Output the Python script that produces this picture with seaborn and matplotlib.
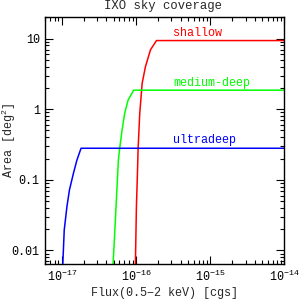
import numpy as np
import pandas as pd
import matplotlib
matplotlib.use("Agg")
import matplotlib.pyplot as plt
import seaborn as sns
from matplotlib.ticker import FixedLocator, LogLocator, NullFormatter

# ---- data ----
ultradeep_flux = [1.03e-17, 1.08e-17, 1.175e-17, 1.27e-17, 1.44e-17, 1.60e-17, 1.82e-17, 1e-14]
ultradeep_area = [0.006, 0.0195, 0.042, 0.072, 0.125, 0.19, 0.28, 0.28]

medium_flux = [4.90e-17, 5.12e-17, 5.45e-17, 5.80e-17, 6.04e-17, 6.51e-17, 7.06e-17, 7.85e-17, 9.33e-17, 1e-14]
medium_area = [0.006, 0.0141, 0.0519, 0.191, 0.28, 0.509, 0.877, 1.35, 1.86, 1.86]

shallow_flux = [9.82e-17, 1.015e-16, 1.048e-16, 1.07e-16, 1.126e-16, 1.213e-16, 1.344e-16, 1.57e-16, 1.89e-16, 1e-14]
shallow_area = [0.006, 0.0417, 0.124, 0.28, 0.88, 2.33, 4.01, 6.92, 9.37, 9.37]

series_names = ["shallow", "medium-deep", "ultradeep"]
series_colors = ["#ff0000", "#00ff00", "#0000ff"]
label_y = [11.8, 2.33, 0.367]
label_x = 3.2e-16

xticks = [1e-17, 1e-16, 1e-15, 1e-14]
xticklabels = [r"$10^{-17}$", r"$10^{-16}$", r"$10^{-15}$", r"$10^{-14}$"]
yticks = [0.01, 0.1, 1, 10]
yticklabels = ["0.01", "0.1", "1", "10"]

sns.set_style("ticks")
plt.rcParams["font.family"] = ["Liberation Mono", "DejaVu Sans"]
plt.rcParams["mathtext.default"] = "regular"
plt.rcParams["mathtext.fontset"] = "custom"
plt.rcParams["mathtext.rm"] = "Liberation Mono"

fig = plt.figure(figsize=(3.0, 3.01), dpi=100)
ax = fig.add_axes([45.3 / 300, 1 - 263.7 / 301, (284.3 - 45.3) / 300, (263.7 - 17.3) / 301])

frames = []
for name, fx, ar in [("ultradeep", ultradeep_flux, ultradeep_area),
                     ("medium-deep", medium_flux, medium_area),
                     ("shallow", shallow_flux, shallow_area)]:
    frames.append(pd.DataFrame({"flux": fx, "area": ar, "survey": name}))
df = pd.concat(frames, ignore_index=True)

sns.lineplot(data=df, x="flux", y="area", hue="survey", hue_order=series_names,
             palette=series_colors, estimator=None, sort=False, lw=1.1,
             legend=False, ax=ax)

ax.set_xscale("log")
ax.set_yscale("log")
ax.set_xlim(6e-18, 1e-14)
ax.set_ylim(0.0065, 20)

ax.xaxis.set_major_locator(FixedLocator(xticks))
ax.set_xticklabels(xticklabels)
ax.yaxis.set_major_locator(FixedLocator(yticks))
ax.set_yticklabels(yticklabels)
ax.xaxis.set_minor_locator(LogLocator(base=10, subs=np.arange(2, 10), numticks=20))
ax.yaxis.set_minor_locator(LogLocator(base=10, subs=np.arange(2, 10), numticks=20))
ax.xaxis.set_minor_formatter(NullFormatter())
ax.yaxis.set_minor_formatter(NullFormatter())

ax.tick_params(which="both", direction="in", top=True, right=True, width=0.8, colors="black")
ax.tick_params(which="major", length=5.5, labelsize=8.5, pad=4)
ax.tick_params(which="minor", length=3)
for s in ax.spines.values():
    s.set_linewidth(1.0)
    s.set_color("black")

for name, c, yv in zip(series_names, series_colors, label_y):
    ax.text(label_x, yv, name, color=c, fontsize=8.5, ha="left", va="center")

ax.set_xlabel("Flux(0.5\u22122 keV) [cgs]", fontsize=8.5)
ax.xaxis.set_label_coords(0.5, -0.119)
ax.xaxis.label.set_va("center")
ax.set_ylabel("Area [deg$^2$]", fontsize=8.5)
ax.yaxis.set_label_coords(-0.152, 0.5)
ax.yaxis.label.set_va("center")

fig.text(163.5 / 300, 1 - 5.5 / 301, "IXO sky coverage", fontsize=8.8, ha="center", va="center")

fig.savefig("out.png", dpi=100)
